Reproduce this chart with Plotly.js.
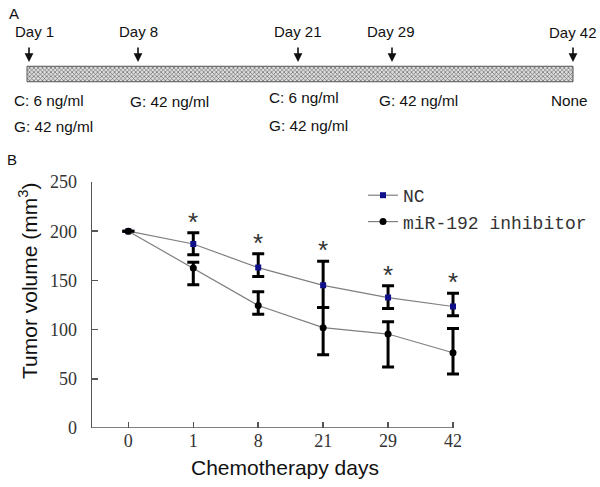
<!DOCTYPE html>
<html>
<head>
<meta charset="utf-8">
<script src="https://cdn.plot.ly/plotly-3.0.1.min.js"></script>
<style>html,body{margin:0;padding:0;background:#fff;}#chart{width:600px;height:487px;}</style>
</head>
<body>
<div id="chart"></div>
<script>
// ---------- Panel A: treatment timeline ----------
const timelineLabels = ['Day 1', 'Day 8', 'Day 21', 'Day 29', 'Day 42'];
const treatRow1 = ['C: 6 ng/ml', 'G: 42 ng/ml', 'C: 6 ng/ml', 'G: 42 ng/ml', 'None'];
const treatRow2 = ['G: 42 ng/ml', '', 'G: 42 ng/ml', '', ''];

// ---------- Panel B: tumor volume ----------
const categories = ['0', '1', '8', '21', '29', '42'];
const ncMean = [200, 187, 163, 145, 132.5, 123.5];
const ncErrPlus = [0, 11.5, 14, 24.5, 12, 13.5];
const ncErrMinus = [0, 11, 9, 22.5, 11, 9.5];
const inhMean = [200, 162.5, 124.5, 102, 95.5, 76.5];
const inhErrPlus = [0, 6, 14, 20.5, 12.5, 24.5];
const inhErrMinus = [0, 17, 9, 27.5, 33.5, 21.5];
const significant = [false, true, true, true, true, true];
const yTicks = [0, 50, 100, 150, 200, 250];

// ---------- layout constants (pixel positions on the page) ----------
const W = 600, H = 487;
const labelX = [13, 117, 272, 365, 547];
const labelY = [31.5, 31.5, 31, 31, 32.5];
const arrowX = [29, 138, 298, 392, 573];
const arrowTop = 46, arrowBottom = 62;
const row1X = [12, 128, 267, 377, 549];
const row1Y = [100, 101, 97, 100, 100];
const row2X = [12, 0, 267, 0, 0];
const row2Y = [126.5, 0, 125, 0, 0];
const barLeft = 27, barRight = 573, barCenter = 74, barThick = 15.5;

const plotL = 92, plotT = 182, plotB = 428;
const xMin = -0.56, xMax = 5.35, xLast = 5;
const pxPerCat = (453 - plotL) / (xLast - xMin);
const plotR = plotL + (xMax - xMin) * pxPerCat;
const catIdx = categories.map((c, i) => i);

const sansFont = 'Liberation Sans, Arial, sans-serif';
const serifFont = 'Liberation Serif, Times New Roman, serif';

const traces = [
  {
    type: 'bar', orientation: 'h',
    x: [barRight - barLeft], base: [barLeft], y: [barCenter], width: [barThick],
    xaxis: 'x2', yaxis: 'y2', showlegend: false, hoverinfo: 'skip',
    marker: {
      color: '#c8c8c8',
      line: {color: '#555', width: 1},
      pattern: {shape: 'x', size: 3, solidity: 0.4, fgcolor: '#666', bgcolor: '#dedede'}
    }
  },
  {
    type: 'scatter', mode: 'lines+markers', name: 'NC',
    x: catIdx, y: ncMean, legendgroup: 'a',
    line: {color: '#7f7f7f', width: 1.2},
    marker: {symbol: 'square', size: 6, color: '#10108a'},
    error_y: {type: 'data', symmetric: false, array: ncErrPlus, arrayminus: ncErrMinus,
              color: '#000', thickness: 3, width: 6}
  },
  {
    type: 'scatter', mode: 'lines+markers', name: 'miR-192 inhibitor',
    x: catIdx, y: inhMean, legendgroup: 'b',
    line: {color: '#7f7f7f', width: 1.2},
    marker: {symbol: 'circle', size: 7, color: '#000'},
    error_y: {type: 'data', symmetric: false, array: inhErrPlus, arrayminus: inhErrMinus,
              color: '#000', thickness: 3, width: 6}
  }
];

const annotations = [];
// panel letters
annotations.push({xref: 'x2', yref: 'y2', x: 7, y: 13, text: 'A', showarrow: false,
  xanchor: 'left', yanchor: 'middle', font: {family: sansFont, size: 15, color: '#111'}});
annotations.push({xref: 'x2', yref: 'y2', x: 5, y: 159, text: 'B', showarrow: false,
  xanchor: 'left', yanchor: 'middle', font: {family: sansFont, size: 15, color: '#111'}});

timelineLabels.forEach((t, i) => {
  annotations.push({xref: 'x2', yref: 'y2', x: labelX[i], y: labelY[i], text: t, showarrow: false,
    xanchor: 'left', yanchor: 'middle', font: {family: sansFont, size: 15, color: '#111'}});
  annotations.push({xref: 'x2', yref: 'y2', axref: 'x2', ayref: 'y2',
    x: arrowX[i], y: arrowBottom, ax: arrowX[i], ay: arrowTop, text: '',
    showarrow: true, arrowhead: 2, arrowsize: 1.1, arrowwidth: 1.6, arrowcolor: '#111', standoff: 0});
  if (treatRow1[i]) annotations.push({xref: 'x2', yref: 'y2', x: row1X[i], y: row1Y[i], text: treatRow1[i],
    showarrow: false, xanchor: 'left', yanchor: 'middle', font: {family: sansFont, size: 15.3, color: '#111'}});
  if (treatRow2[i]) annotations.push({xref: 'x2', yref: 'y2', x: row2X[i], y: row2Y[i], text: treatRow2[i],
    showarrow: false, xanchor: 'left', yanchor: 'middle', font: {family: sansFont, size: 15.3, color: '#111'}});
});

// significance stars
significant.forEach((s, i) => {
  if (!s) return;
  annotations.push({xref: 'x', yref: 'y', x: catIdx[i], y: ncMean[i] + ncErrPlus[i], text: '*',
    showarrow: false, xanchor: 'center', yanchor: 'bottom', yshift: -6,
    font: {family: sansFont, size: 26, color: '#333'}});
});

// axis titles (positioned like the original)
const toPX = px => px / W;
const toPY = py => 1 - py / H;
annotations.push({xref: 'paper', yref: 'paper', x: toPX(285), y: toPY(467), text: 'Chemotherapy days',
  showarrow: false, xanchor: 'center', yanchor: 'middle', font: {family: sansFont, size: 21, color: '#111'}});
annotations.push({xref: 'paper', yref: 'paper', x: toPX(28), y: toPY(281), text: 'Tumor volume (mm<sup>3</sup>)',
  textangle: -90, showarrow: false, xanchor: 'center', yanchor: 'middle',
  font: {family: sansFont, size: 21, color: '#111'}});

const layout = {
  width: W, height: H,
  margin: {l: 0, r: 0, t: 0, b: 0},
  paper_bgcolor: '#fff', plot_bgcolor: 'rgba(0,0,0,0)',
  showlegend: true,
  legend: {
    x: toPX(363), y: toPY(177), xanchor: 'left', yanchor: 'top',
    bgcolor: 'rgba(0,0,0,0)', borderwidth: 0,
    font: {family: 'Liberation Mono, Courier New, monospace', size: 18, color: '#333'},
    traceorder: 'grouped', tracegroupgap: 0, itemwidth: 30
  },
  xaxis: {
    domain: [plotL / W, plotR / W],
    range: [xMin, xMax],
    tickvals: catIdx, ticktext: categories,
    showgrid: false, zeroline: false, showline: false,
    ticks: 'inside', ticklen: 6, tickwidth: 1.5, tickcolor: '#555',
    ticklabelstandoff: 0,
    tickfont: {family: serifFont, size: 18, color: '#333'}
  },
  yaxis: {
    domain: [1 - plotB / H, 1 - plotT / H],
    range: [0, 250],
    tickvals: yTicks,
    showgrid: false, zeroline: false,
    showline: true, linecolor: '#555', linewidth: 1.5,
    ticks: 'inside', ticklen: 6, tickwidth: 1.5, tickcolor: '#555',
    ticklabelstandoff: 10,
    tickfont: {family: serifFont, size: 18, color: '#333'}
  },
  xaxis2: {domain: [0, 1], range: [0, W], visible: false, fixedrange: true, anchor: 'y2'},
  yaxis2: {domain: [0, 1], range: [H, 0], visible: false, fixedrange: true, anchor: 'x2'},
  shapes: [
    // x-axis baseline, ending at the last category tick as in the original
    {type: 'line', xref: 'x', yref: 'y', x0: xMin, x1: xLast, y0: 0, y1: 0,
     line: {color: '#555', width: 1.5}}
  ],
  annotations: annotations
};

Plotly.newPlot('chart', traces, layout, {staticPlot: true, displayModeBar: false});
</script>
</body>
</html>
